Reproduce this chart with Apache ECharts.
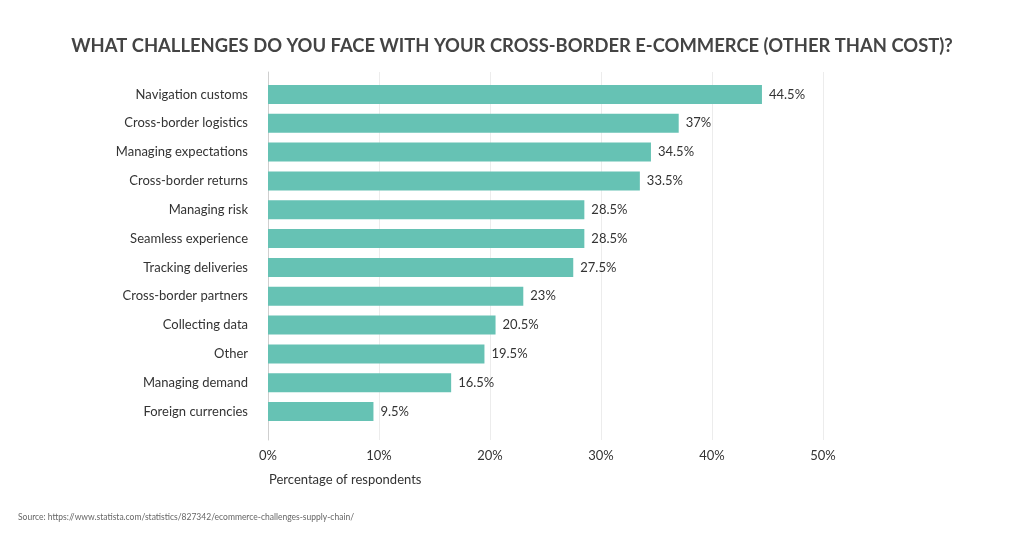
<!DOCTYPE html>
<html><head><meta charset="utf-8">
<script src="https://cdn.jsdelivr.net/npm/echarts@6/dist/echarts.min.js"></script>
<style>html,body{margin:0;padding:0;background:#fff}#c{width:1024px;height:536px}</style>
</head><body><div id="c"></div>
<script>
const categories = ["Navigation customs","Cross-border logistics","Managing expectations","Cross-border returns","Managing risk","Seamless experience","Tracking deliveries","Cross-border partners","Collecting data","Other","Managing demand","Foreign currencies"];
const values = [44.5,37,34.5,33.5,28.5,28.5,27.5,23,20.5,19.5,16.5,9.5];
const xTicks = [0,10,20,30,40,50];
const titleText = "WHAT CHALLENGES DO YOU FACE WITH YOUR CROSS-BORDER E-COMMERCE (OTHER THAN COST)?";
const axisName = "Percentage of respondents";
const sourceText = "Source: https://www.statista.com/statistics/827342/ecommerce-challenges-supply-chain/";

const font = "Lato, 'Open Sans', sans-serif";
const chart = echarts.init(document.getElementById('c'));
chart.setOption({
  animation:false,
  backgroundColor:'#fff',
  title:{text:titleText,left:'center',top:32,textStyle:{fontFamily:font,fontSize:18.4,fontWeight:'bold',color:'#444'}},
  graphic:[
    {type:'text',left:269,top:473,style:{text:axisName,fontFamily:font,fontSize:13,fill:'#333'}},
    {type:'text',left:18,top:513,style:{text:sourceText,fontFamily:font,fontSize:8.5,fill:'#666'}}
  ],
  grid:[
    {left:268,right:201,top:80,height:346,containLabel:false},
    {left:268,right:201,top:72,height:368,containLabel:false}
  ],
  xAxis:[
    {gridIndex:0,type:'value',min:0,max:50,interval:10,show:false,splitLine:{show:false}},
    {gridIndex:1,type:'value',min:0,max:50,interval:10,axisLine:{show:false},axisTick:{show:false},
     axisLabel:{margin:9,fontFamily:font,fontSize:13,color:'#333',formatter:v=>v+'%'},
     splitLine:{show:true,lineStyle:{color:'#ececec',width:1}}}
  ],
  yAxis:[
    {gridIndex:0,type:'category',data:categories,inverse:true,axisLine:{show:false},axisTick:{show:false},
     axisLabel:{margin:20,fontFamily:font,fontSize:13,color:'#333'}},
    {gridIndex:1,type:'value',min:0,max:1,axisLine:{show:true,lineStyle:{color:'#cfcfcf'}},axisTick:{show:false},axisLabel:{show:false},splitLine:{show:false}}
  ],
  series:[{
    type:'bar',xAxisIndex:0,yAxisIndex:0,data:values,barWidth:19,
    itemStyle:{color:'#66c2b4'},
    label:{show:true,position:'right',distance:7,fontFamily:font,fontSize:13,color:'#333',formatter:p=>p.value+'%'}
  }]
});
</script></body></html>
